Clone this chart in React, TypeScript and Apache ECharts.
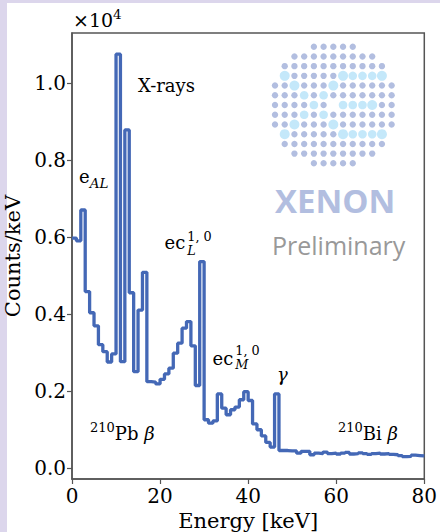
import React, { useEffect, useRef } from "react";
import * as echarts from "echarts";

// Energy bin edges [keV] (1 keV bins from 0 to 80)
const binStartKeV = 0;
const binWidthKeV = 1;
// Counts/keV in units of 10^4, one value per bin
const countsPerKeV = [
  0.597, 0.59, 0.67, 0.458, 0.403, 0.369, 0.32, 0.302, 0.275, 0.296,
  1.075, 0.276, 0.878, 0.455, 0.25, 0.41, 0.508, 0.224, 0.223, 0.218,
  0.23, 0.244, 0.259, 0.298, 0.324, 0.363, 0.38, 0.317, 0.214, 0.536,
  0.125, 0.116, 0.122, 0.192, 0.155, 0.138, 0.151, 0.158, 0.177, 0.198,
  0.175, 0.114, 0.099, 0.083, 0.066, 0.054, 0.192, 0.045, 0.045, 0.044,
  0.044, 0.038, 0.043, 0.043, 0.034, 0.038, 0.037, 0.041, 0.037, 0.038,
  0.036, 0.038, 0.04, 0.036, 0.037, 0.039, 0.037, 0.035, 0.037, 0.038,
  0.036, 0.037, 0.035, 0.034, 0.032, 0.029, 0.03, 0.033, 0.032, 0.031,
];
const xTicks = [0, 20, 40, 60, 80];
const yTicks = [0, 0.2, 0.4, 0.6, 0.8, 1.0];

const SERIF = "DejaVu Serif";
const LINE_BLUE = "#4468b6";

function buildLogo() {
  const rowStart = [4, 2, 1, 1, 0, 0, 0, 0, 0, 1, 1, 2, 4];
  const rowEnd = [8, 10, 11, 11, 12, 12, 12, 12, 12, 11, 11, 10, 8];
  const light = new Set([
    "1,3", "7,3", "8,3", "9,3", "10,3", "11,3",
    "2,4", "6,4", "3,5", "5,5", "4,6", "7,6", "8,6", "9,6", "10,6",
    "3,7", "5,7", "2,8", "6,8",
    "1,9", "7,9", "8,9", "9,9", "10,9", "11,9",
  ]);
  const big = new Set(["1,3", "7,3", "11,3", "2,4", "6,4", "10,6", "2,8", "6,8", "1,9", "7,9", "11,9"]);
  const gap = new Set(["6,6"]);
  const x0 = 275, y0 = 46.7, step = 9.72;
  const els: any[] = [];
  for (let r = 0; r < rowStart.length; r++) {
    for (let c = rowStart[r]; c <= rowEnd[r]; c++) {
      const k = c + "," + r;
      if (gap.has(k)) continue;
      const isLight = light.has(k);
      els.push({
        type: "circle",
        silent: true,
        shape: { cx: x0 + c * step, cy: y0 + r * step, r: isLight ? (big.has(k) ? 5 : 4.3) : 3.2 },
        style: { fill: isLight ? "#c4e8fa" : "#b2bee0" },
        z: 1,
      });
    }
  }
  return els;
}

function txt(text: string, x: number, y: number, size: number, opts: any = {}) {
  return {
    type: "text",
    x,
    y,
    silent: true,
    z: 10,
    style: {
      text,
      fontFamily: opts.family || SERIF,
      fontSize: size,
      fontStyle: opts.italic ? "italic" : "normal",
      fontWeight: opts.weight || "normal",
      fill: opts.color || "#000",
      align: "left",
      verticalAlign: "middle",
      textAlign: "left",
      textVerticalAlign: "middle",
      ...(opts.rich ? { rich: opts.rich } : {}),
    },
  };
}

const richStyles = {
  n: { fontFamily: SERIF, fontSize: 18, lineHeight: 26, verticalAlign: "middle", fill: "#000", color: "#000" },
  big: { fontFamily: SERIF, fontSize: 19, lineHeight: 26, verticalAlign: "middle", fill: "#000", color: "#000" },
  i: { fontFamily: SERIF, fontSize: 18, fontStyle: "italic", lineHeight: 26, verticalAlign: "middle", fill: "#000", color: "#000" },
  sup: { fontFamily: SERIF, fontSize: 13.5, lineHeight: 13.5, verticalAlign: "top", fill: "#000", color: "#000" },
  sup13: { fontFamily: SERIF, fontSize: 13, lineHeight: 13, verticalAlign: "top", fill: "#000", color: "#000" },
  subI: { fontFamily: SERIF, fontSize: 13.5, fontStyle: "italic", lineHeight: 13.5, verticalAlign: "bottom", fill: "#000", color: "#000" },
  s1: { fontFamily: SERIF, fontSize: 12.8, lineHeight: 13.6, fill: "#000", color: "#000" },
  s2: { fontFamily: SERIF, fontSize: 12.8, fontStyle: "italic", lineHeight: 13.6, fill: "#000", color: "#000" },
};

export default function App() {
  const ref = useRef<HTMLDivElement>(null);
  useEffect(() => {
    const chart = echarts.init(ref.current!, null, { renderer: "svg" });
    const data: number[][] = countsPerKeV.map((v, i) => [binStartKeV + i * binWidthKeV, v]);
    data.push([binStartKeV + countsPerKeV.length * binWidthKeV, countsPerKeV[countsPerKeV.length - 1]]);

    const graphic: any[] = [
      { type: "rect", silent: true, z: 0, shape: { x: 0, y: 0, width: 440, height: 3 }, style: { fill: "#dcd6ec" } },
      { type: "rect", silent: true, z: 0, shape: { x: 0, y: 0, width: 7, height: 532 }, style: { fill: "#dcd6ec" } },
      ...buildLogo(),
      txt("XENON", 275, 200.2, 33, { family: "Open Sans", weight: "bold", color: "#b2bee0" }),
      txt("Preliminary", 272, 245.3, 25, { family: "Open Sans", color: "#999999" }),
      txt("{big|×10}{sup|4}", 73, 20.4, 19, { rich: richStyles }),
      txt("{n|e}{subI|AL}", 79, 176.5, 18, { rich: richStyles }),
      txt("X-rays", 138, 85.5, 18),
      txt("ec", 164.5, 242.1, 18),
      txt("{s1|1, 0}\n{s2|L}", 187.3, 243.6, 12.8, { rich: richStyles }),
      txt("ec", 212.5, 358.8, 18),
      txt("{s1|1, 0}\n{s2|M}", 235.3, 357.6, 12.8, { rich: richStyles }),
      txt("γ", 277, 374.8, 18, { italic: true }),
      txt("{sup13|210}{n|Pb }{i|β}", 90, 433.8, 18, { rich: richStyles }),
      txt("{sup13|210}{n|Bi }{i|β}", 338, 433.8, 18, { rich: richStyles }),
    ];

    chart.setOption({
      animation: false,
      backgroundColor: "#ffffff",
      grid: {
        left: 72,
        right: 15.7,
        top: 33,
        bottom: 53,
        containLabel: false,
        outerBoundsMode: "none",
        show: true,
        borderColor: "#555555",
        borderWidth: 1.5,
        backgroundColor: "transparent",
      },
      xAxis: {
        type: "value",
        min: 0,
        max: 80,
        interval: 20,
        name: "Energy [keV]",
        nameLocation: "middle",
        nameGap: 30,
        nameTextStyle: { fontFamily: SERIF, fontSize: 21, color: "#000" },
        axisLine: { show: true, onZero: false, lineStyle: { color: "#555555", width: 1.5 } },
        axisTick: { show: true, inside: false, length: 5, lineStyle: { color: "#555555", width: 1.2 } },
        axisLabel: { fontFamily: SERIF, fontSize: 20, color: "#000", margin: 7, customValues: xTicks },
        splitLine: { show: false },
      },
      yAxis: {
        type: "value",
        min: -0.029,
        max: 1.13,
        name: "Counts/keV",
        nameLocation: "middle",
        nameGap: 41,
        nameTextStyle: { fontFamily: SERIF, fontSize: 21, color: "#000" },
        axisLine: { show: true, onZero: false, lineStyle: { color: "#555555", width: 1.5 } },
        axisTick: { show: true, inside: false, length: 5, customValues: yTicks, lineStyle: { color: "#555555", width: 1.2 } },
        axisLabel: {
          fontFamily: SERIF,
          fontSize: 20,
          color: "#000",
          margin: 6,
          customValues: yTicks,
          formatter: (v: number) => v.toFixed(1),
        },
        splitLine: { show: false },
      },
      series: [
        {
          type: "line",
          step: "end",
          data,
          symbol: "none",
          lineStyle: { color: LINE_BLUE, width: 3.3 },
          z: 5,
        },
      ],
      graphic,
    });
    return () => chart.dispose();
  }, []);
  return (
    <div
      ref={ref}
      style={{ position: "fixed", left: 0, top: 0, width: 440, height: 532 }}
    />
  );
}
